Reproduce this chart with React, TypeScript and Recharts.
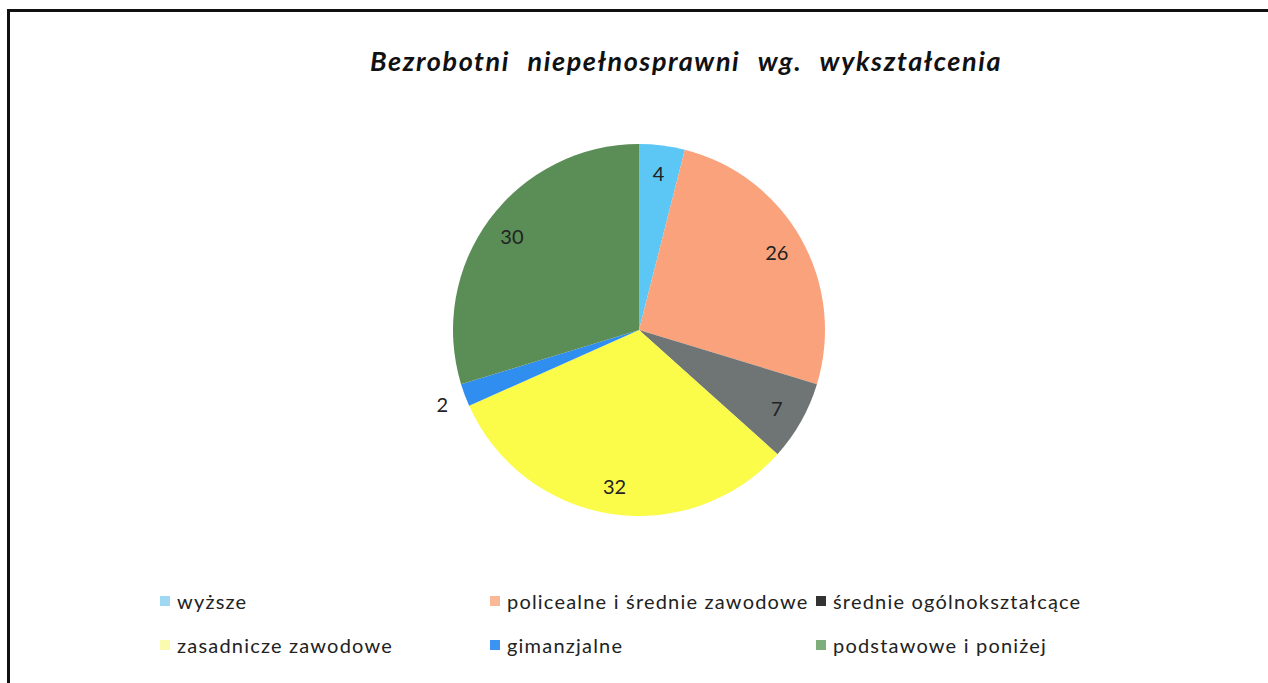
import { Legend, Pie, PieChart, Cell } from "recharts";

const CATEGORIES = [
  "wyższe",
  "policealne i średnie zawodowe",
  "średnie ogólnokształcące",
  "zasadnicze zawodowe",
  "gimanzjalne",
  "podstawowe i poniżej",
];
const VALUES = [4, 26, 7, 32, 2, 30];
const COLORS = ["#5cc6f4", "#f9a27c", "#6f7575", "#fbfb4a", "#2f8ef0", "#5b8d56"];
const LEGEND_COLORS = ["#9fd8f2", "#f9b896", "#333333", "#fbfbb0", "#3b93f2", "#7fae7c"];

const TITLE = "Bezrobotni niepełnosprawni wg. wykształcenia";

const rows = CATEGORIES.map((name, i) => ({ name, value: VALUES[i] }));

const W = 1268;
const H = 683;
const RADIAN = Math.PI / 180;

function renderLabel(props: any) {
  const { cx, cy, midAngle, outerRadius, value } = props;
  const outside = value < 3;
  const r = outside ? outerRadius + 24 : outerRadius * 0.85;
  const x = cx + r * Math.cos(-midAngle * RADIAN);
  const y = cy + r * Math.sin(-midAngle * RADIAN);
  return (
    <text
      x={x}
      y={y}
      textAnchor="middle"
      dominantBaseline="central"
      fill="#222"
      fontSize={20}
      fontFamily="Lato, sans-serif"
    >
      {value}
    </text>
  );
}

function LegendBlock() {
  const colX = [160, 490, 816];
  const rowY = [601, 645];
  return (
    <div style={{ position: "relative", width: W, height: H, pointerEvents: "none" }}>
      {CATEGORIES.map((c, i) => (
        <div
          key={c}
          style={{
            position: "absolute",
            left: colX[i % 3],
            top: rowY[Math.floor(i / 3)] - 12,
            display: "flex",
            alignItems: "center",
            gap: 7,
            fontFamily: "Lato, sans-serif",
            fontSize: 20,
            letterSpacing: 1.2,
            color: "#222",
            whiteSpace: "nowrap",
            lineHeight: "24px",
          }}
        >
          <span style={{ width: 10, height: 10, background: LEGEND_COLORS[i], display: "inline-block" }} />
          <span>{c}</span>
        </div>
      ))}
    </div>
  );
}

export default function App() {
  return (
    <div style={{ position: "relative", width: W, height: H, background: "#fff", overflow: "hidden" }}>
      <style>{`body{margin:0}`}</style>
      <div
        style={{
          position: "absolute",
          left: 7,
          top: 9,
          width: W + 20,
          height: H + 20,
          borderTop: "3px solid #111",
          borderLeft: "3px solid #111",
        }}
      />
      <div
        style={{
          position: "absolute",
          left: 0,
          width: W,
          top: 44,
          textAlign: "center",
          paddingLeft: 104,
          boxSizing: "border-box",
          fontFamily: "Lato, sans-serif",
          fontWeight: 700,
          fontStyle: "italic",
          fontSize: 27,
          letterSpacing: 1.6,
          wordSpacing: 10,
          color: "#111",
        }}
      >
        {TITLE}
      </div>
      <div style={{ position: "absolute", left: 0, top: 0 }}>
        <PieChart width={W} height={H}>
          <Pie
            data={rows}
            dataKey="value"
            nameKey="name"
            cx={634}
            cy={325}
            outerRadius={186}
            startAngle={90}
            endAngle={-270}
            stroke="none"
            label={renderLabel}
            labelLine={false}
            isAnimationActive={false}
          >
            {rows.map((r, i) => (
              <Cell key={r.name} fill={COLORS[i]} />
            ))}
          </Pie>
          <Legend
            content={() => <LegendBlock />}
            wrapperStyle={{ position: "absolute", left: 0, top: 0, width: W, height: H }}
          />
        </PieChart>
      </div>
    </div>
  );
}
